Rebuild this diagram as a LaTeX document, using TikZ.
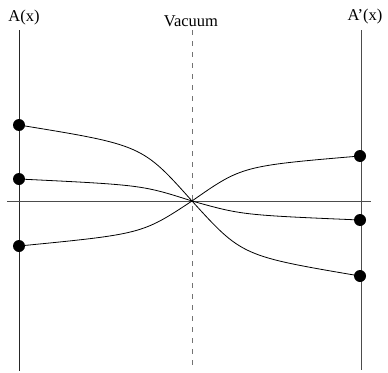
\documentclass[tikz,border=0pt]{standalone}
\usepackage{fontspec}
\setmainfont{Liberation Serif}
\tikzset{
  dot/.style={circle, fill=black, inner sep=0pt, minimum size=12pt},
  lbl/.style={anchor=base, inner sep=0pt, font=\fontsize{16.5}{18}\selectfont},
  axis/.style={black!70, line width=1pt},
  wave/.style={black, line width=0.8pt}
}
\begin{document}
\begin{tikzpicture}[x=1pt, y=-1pt]
\useasboundingbox (0,0) rectangle (388,372);

\coordinate (lt) at (19,30);
\coordinate (lb) at (19,371);
\coordinate (rt) at (361,30);
\coordinate (rb) at (361,370);
\coordinate (vt) at (192,30);
\coordinate (vb) at (192,367);
\coordinate (hl) at (7,201);
\coordinate (hr) at (371,201);
\coordinate (c) at (192,201);

\draw[black!85, line width=1pt] (lt) -- (lb);
\draw[axis] (rt) -- (rb);
\draw[black!55, line width=1pt, dash pattern=on 5pt off 6pt] (vt) -- (vb);
\draw[axis] (hl) -- (hr);

\node[lbl] (a) at (24,21) {A(x)};
\node[lbl] (vac) at (191,26) {Vacuum};
\node[lbl] (ap) at (365,20) {A’(x)};

\node[dot] (l1) at (19,125) {};
\node[dot] (l2) at (19,179) {};
\node[dot] (l3) at (19,246) {};
\node[dot] (r1) at (360,156) {};
\node[dot] (r2) at (360,220) {};
\node[dot] (r3) at (360,276) {};

\draw[wave] (l1.center) .. controls (142,145) .. (c);
\draw[wave] (l2.center) .. controls (142,185) .. (c);
\draw[wave] (l3.center) .. controls (142,234) .. (c);
\draw[wave] (c) .. controls (242,166) .. (r1.center);
\draw[wave] (c) .. controls (242,215) .. (r2.center);
\draw[wave] (c) .. controls (242,256) .. (r3.center);
\end{tikzpicture}
\end{document}
